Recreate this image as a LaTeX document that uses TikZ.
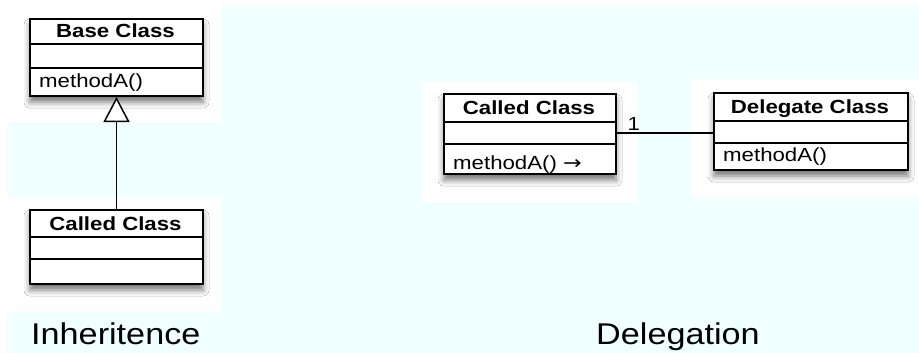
\documentclass[tikz,border=0pt]{standalone}
\usepackage{fontspec}
\setmainfont{Liberation Sans}
\newfontfamily\boxfont[FakeStretch=1.17]{Liberation Sans}
\newfontfamily\arrfont[FakeStretch=1.17]{DejaVu Sans}
\newfontfamily\titlefont[FakeStretch=1.14]{Liberation Sans}
\usetikzlibrary{arrows.meta,shadows.blur}
\definecolor{bgcyan}{HTML}{F0FFFF}
\tikzset{
  classbox/.style={draw=black, line width=2pt, fill=white, anchor=north west,
    inner sep=0pt, blur shadow={shadow xshift=0pt, shadow yshift=-6pt,
    shadow blur radius=6pt, shadow opacity=55}},
  compart/.style={draw=none, inner sep=0pt, anchor=north west},
  divider/.style={line width=1.5pt},
  headtxt/.style={font=\boxfont\fontsize{19}{21}\selectfont\bfseries, inner sep=0pt, anchor=base},
  methtxt/.style={font=\boxfont\fontsize{19}{21}\selectfont, inner sep=0pt, anchor=base west},
  titletxt/.style={font=\titlefont\fontsize{30}{34}\selectfont, inner sep=0pt, anchor=base west},
  conn/.style={line width=1.5pt},
}
\begin{document}
\begin{tikzpicture}[x=1pt,y=-1pt]
\useasboundingbox (0,0) rectangle (919,353);
% background
\fill[white] (0,0) rectangle (919,353);
\fill[bgcyan] (7,5) rectangle (919,353);
\fill[white] (0,0) rectangle (222,122);
\fill[white] (0,197) rectangle (222,311);
\fill[white] (422,82) rectangle (637,202);
\fill[white] (692,80) rectangle (919,197);

% ---- Inheritance: Base Class
\node[classbox, minimum width=173pt, minimum height=77pt] (base) at (29,18) {};
\draw[divider] (29,44) -- (202,44);
\draw[divider] (29,68) -- (202,68);
\node[headtxt] (basehead) at (115.5,37.5) {Base Class};
\node[methtxt] (basemeth) at (39,87.5) {methodA()};

% ---- Inheritance: Called Class
\node[classbox, minimum width=173pt, minimum height=74pt] (lcc) at (29,209) {};
\draw[divider] (29,237) -- (202,237);
\draw[divider] (29,259) -- (202,259);
\node[headtxt] (lcchead) at (115.5,230) {Called Class};

\draw[conn, -{Triangle[length=25pt, width=26pt, fill=white, line width=1.5pt]}] (lcc.north) -- (base.south);

% ---- Delegation: Called Class
\node[classbox, minimum width=172pt, minimum height=80pt] (dcc) at (443,93) {};
\draw[divider] (443,122) -- (615,122);
\draw[divider] (443,144) -- (615,144);
\node[compart, minimum width=172pt, minimum height=22pt] (ccmid) at (443,122) {};
\node[headtxt] (dcchead) at (529,114.7) {Called Class};
\node[methtxt] (dccmeth) at (453,169.5) {methodA() {\arrfont\char"2192}};

% ---- Delegation: Delegate Class
\node[classbox, minimum width=194pt, minimum height=77pt] (dlg) at (713,92) {};
\draw[divider] (713,121) -- (907,121);
\draw[divider] (713,143) -- (907,143);
\node[compart, minimum width=194pt, minimum height=22pt] (dlgmid) at (713,121) {};
\node[headtxt] (dlghead) at (810,113.3) {Delegate Class};
\node[methtxt] (dlgmeth) at (723,161.7) {methodA()};

\draw[conn] (ccmid.east) -- (ccmid.east -| dlgmid.west);
\node[methtxt] (mult) at ([xshift=12pt, yshift=3pt]ccmid.east) {1};

% ---- Titles
\node[titletxt] (inh) at (31,344) {Inheritence};
\node[titletxt] (del) at (596,344) {Delegation};
\end{tikzpicture}
\end{document}
